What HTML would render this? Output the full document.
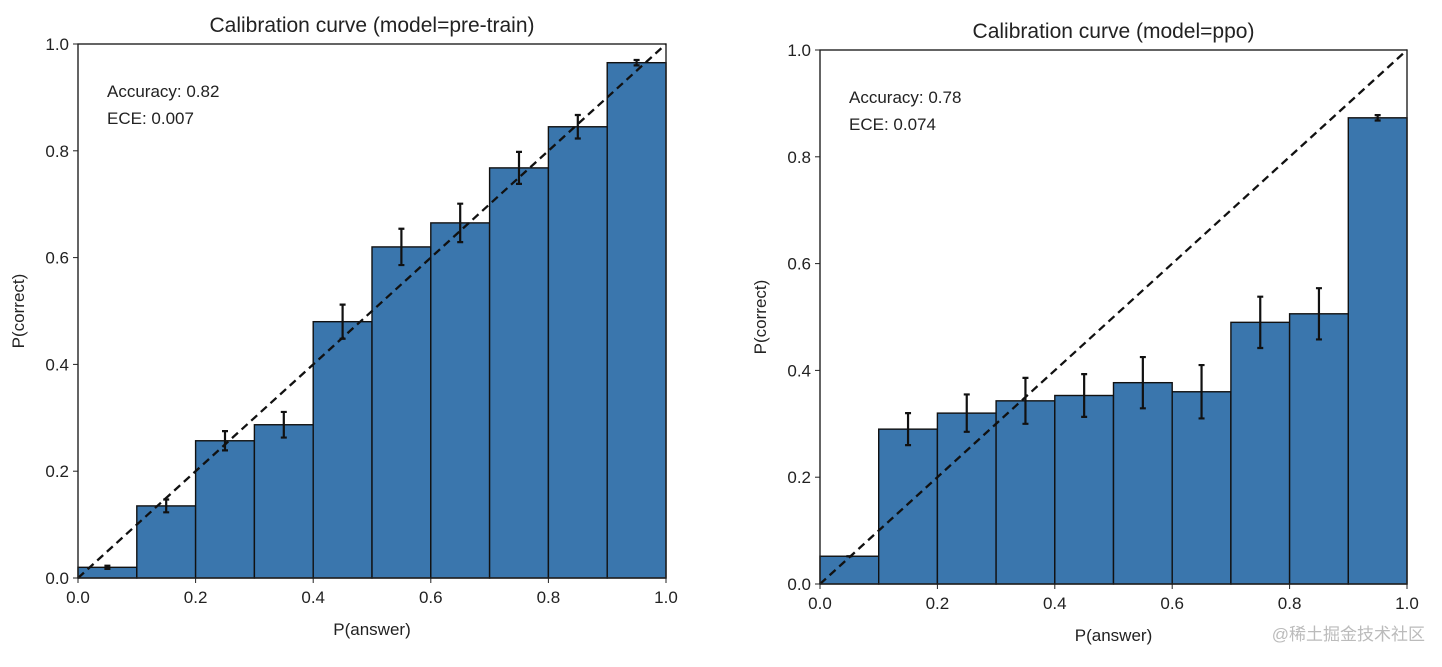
<!DOCTYPE html>
<html><head><meta charset="utf-8"><style>
body{margin:0;background:#fff;width:1442px;height:662px;overflow:hidden;font-family:"Liberation Sans","Noto Sans CJK SC",sans-serif}
svg text{fill:#222}
</style></head><body>
<svg id="svg" width="1442" height="662"></svg>
<script>
const bins=[0,0.1,0.2,0.3,0.4,0.5,0.6,0.7,0.8,0.9];
const preVals=[0.02,0.135,0.257,0.287,0.48,0.62,0.665,0.768,0.845,0.965];
const preErr=[0.003,0.012,0.018,0.024,0.032,0.034,0.036,0.03,0.022,0.005];
const ppoVals=[0.052,0.29,0.32,0.343,0.353,0.377,0.36,0.49,0.506,0.873];
const ppoErr=[0.0,0.03,0.035,0.043,0.04,0.048,0.05,0.048,0.048,0.005];
const ticks=[0,0.2,0.4,0.6,0.8,1.0];
const tickLabels=["0.0","0.2","0.4","0.6","0.8","1.0"];
const NS="http://www.w3.org/2000/svg";
const svg=document.getElementById('svg');
function mk(t,a,p){const e=document.createElementNS(NS,t);for(const k in a)e.setAttribute(k,a[k]);(p||svg).appendChild(e);return e;}
function panel(name,L,R,T,B,title,vals,err,acc,ece){
  const g=mk('g',{});
  
  
  const sx=v=>L+v*(R-L), sy=v=>B-v*(B-T);
  bins.forEach((b,i)=>{
    const r=mk('rect',{x:sx(b),y:sy(vals[i]),width:sx(b+0.1)-sx(b),height:B-sy(vals[i]),fill:'#3a76ad',stroke:'#111','stroke-width':1.4},g);
    
    
  });
  const d=mk('line',{x1:sx(0),y1:sy(0),x2:sx(1),y2:sy(1),stroke:'#111','stroke-width':2.3,'stroke-dasharray':'8,5'},g);
  
  
  bins.forEach((b,i)=>{
    const cx=sx(b+0.05),y1=sy(vals[i]+err[i]),y2=sy(vals[i]-err[i]);
    const eb=mk('path',{d:`M${cx},${y1}V${y2}M${cx-3},${y1}H${cx+3}M${cx-3},${y2}H${cx+3}`,stroke:'#111','stroke-width':2.2,fill:'none'},g);
    
    
  });
  mk('rect',{x:L,y:T,width:R-L,height:B-T,fill:'none',stroke:'#222','stroke-width':1.4},g);
  ticks.forEach((t,i)=>{
    mk('line',{x1:sx(t),x2:sx(t),y1:B,y2:B+5,stroke:'#222'},g);
    const tx=mk('text',{x:sx(t),y:B+25,'text-anchor':'middle','font-size':17},g);tx.textContent=tickLabels[i];
    
    
    mk('line',{x1:L-5,x2:L,y1:sy(t),y2:sy(t),stroke:'#222'},g);
    const ty=mk('text',{x:L-9,y:sy(t)+6,'text-anchor':'end','font-size':17},g);ty.textContent=tickLabels[i];
    
    
  });
  const ti=mk('text',{x:(L+R)/2,y:T-12,'text-anchor':'middle','font-size':21},g);ti.textContent=title;
  
  
  const xl=mk('text',{x:(L+R)/2,y:B+57,'text-anchor':'middle','font-size':17},g);xl.textContent='P(answer)';
  
  
  const yl=mk('text',{x:0,y:0,'text-anchor':'middle','font-size':17,transform:`translate(${L-54},${(T+B)/2}) rotate(-90)`},g);yl.textContent='P(correct)';
  
  
  const a=mk('text',{x:L+29,y:T+53,'font-size':17},g);a.textContent='Accuracy: '+acc;
  
  
  const e=mk('text',{x:L+29,y:T+80,'font-size':17},g);e.textContent='ECE: '+ece;
  
  
}
panel('pretrain-chart',78,666,44,578,'Calibration curve (model=pre-train)',preVals,preErr,'0.82','0.007');
panel('ppo-chart',820,1407,50,584,'Calibration curve (model=ppo)',ppoVals,ppoErr,'0.78','0.074');
const w=mk('text',{x:1425,y:640,'text-anchor':'end','font-size':17,style:'fill:#bbb'});w.textContent='@稀土掘金技术社区';


</script>
</body></html>
